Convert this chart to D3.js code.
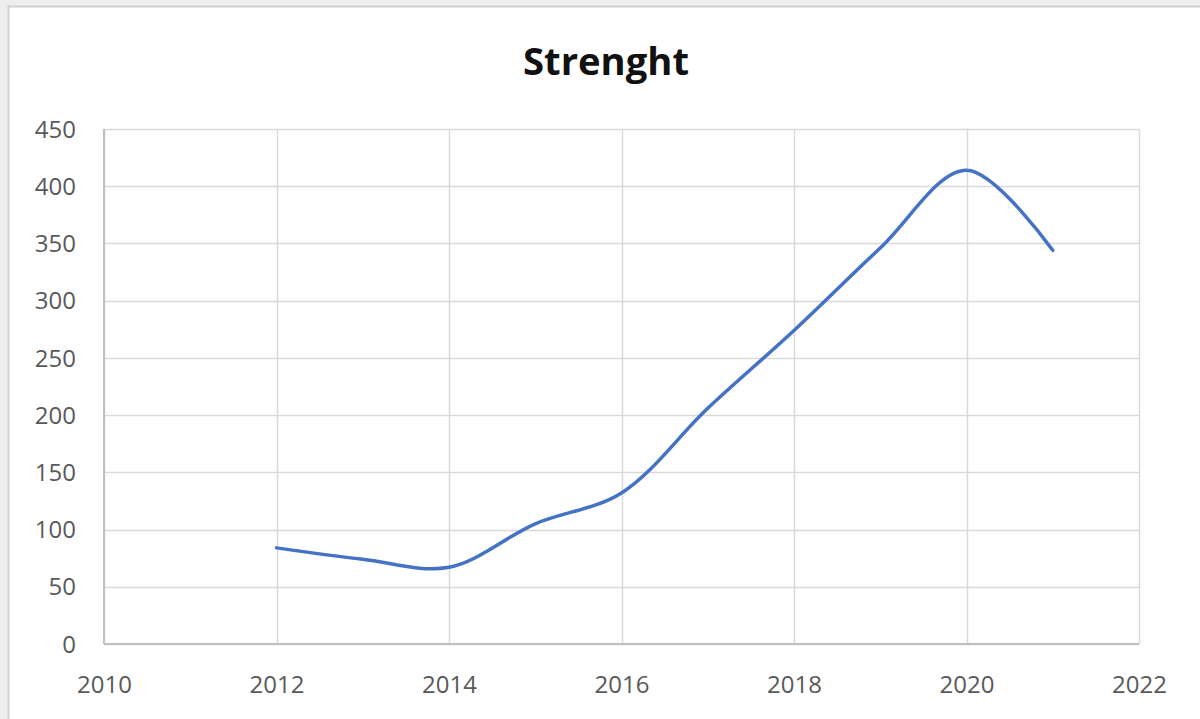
<!DOCTYPE html>
<html><head><meta charset="utf-8">
<script src="https://cdn.jsdelivr.net/npm/d3@7"></script>
<style>
html,body{margin:0;padding:0;background:#eeeeee;}
svg{display:block;}
</style></head>
<body>
<svg id="c" width="1200" height="719"></svg>
<script>
const title = "Strenght";
const years = [2012, 2013, 2014, 2015, 2016, 2017, 2018, 2019, 2020, 2021];
const strength = [84, 74, 67, 105, 132, 206, 274, 346, 414, 344];
const xTicks = [2010, 2012, 2014, 2016, 2018, 2020, 2022];
const yTicks = [0, 50, 100, 150, 200, 250, 300, 350, 400, 450];

const svg = d3.select("#c");
svg.append("rect").attr("x", 8.5).attr("y", 6.5).attr("width", 1200).attr("height", 720)
  .attr("fill", "#ffffff").attr("stroke", "#d0d0d0").attr("stroke-width", 2);

const x = d3.scaleLinear().domain([2010, 2022]).range([104, 1139]);
const y = d3.scaleLinear().domain([0, 450]).range([644, 129]);

const g = svg.append("g");
g.selectAll(".hg").data(yTicks).join("line")
  .attr("x1", x(2010)).attr("x2", x(2022))
  .attr("y1", d => Math.round(y(d)) + 0.5).attr("y2", d => Math.round(y(d)) + 0.5)
  .attr("stroke", "#d9d9d9").attr("stroke-width", 1.5);
g.selectAll(".vg").data(xTicks).join("line")
  .attr("y1", y(0)).attr("y2", y(450))
  .attr("x1", d => Math.round(x(d)) + 0.5).attr("x2", d => Math.round(x(d)) + 0.5)
  .attr("stroke", "#d9d9d9").attr("stroke-width", 1.5);
g.append("line").attr("x1", x(2010)).attr("x2", x(2022)).attr("y1", y(0)).attr("y2", y(0))
  .attr("stroke", "#bfbfbf").attr("stroke-width", 2);
g.append("line").attr("x1", x(2010)).attr("x2", x(2010)).attr("y1", y(0)).attr("y2", y(450))
  .attr("stroke", "#bfbfbf").attr("stroke-width", 2);

const xAxis = d3.axisBottom(x).tickValues(xTicks).tickFormat(d3.format("d")).tickSize(0).tickPadding(0);
const xa = svg.append("g").attr("transform", `translate(0,${y(0) + 41})`).call(xAxis);
xa.select(".domain").remove();
xa.selectAll("text").attr("dy", "0.32em");

const yAxis = d3.axisLeft(y).tickValues(yTicks).tickSize(0).tickPadding(0);
const ya = svg.append("g").attr("transform", `translate(${x(2010) - 28},0)`).call(yAxis);
ya.select(".domain").remove();

svg.selectAll(".tick text").attr("fill", "#595959")
  .style("font-family", "'Open Sans', 'Liberation Sans', sans-serif").style("font-size", "24px");
ya.selectAll("text").attr("dy", "0.34em");

const line = d3.line().x((d, i) => x(years[i])).y(d => y(d)).curve(d3.curveCatmullRom.alpha(0.5));
svg.append("path").datum(strength).attr("d", line)
  .attr("fill", "none").attr("stroke", "#4472c4").attr("stroke-width", 3.5).attr("stroke-linecap", "round");

svg.append("text").attr("x", 606).attr("y", 75).attr("text-anchor", "middle")
  .style("font-family", "'Open Sans', 'Liberation Sans', sans-serif").style("font-weight", "bold")
  .style("font-size", "38px").attr("fill", "#111111")
  .attr("textLength", 166).attr("lengthAdjust", "spacingAndGlyphs").text(title);
</script>
</body></html>
